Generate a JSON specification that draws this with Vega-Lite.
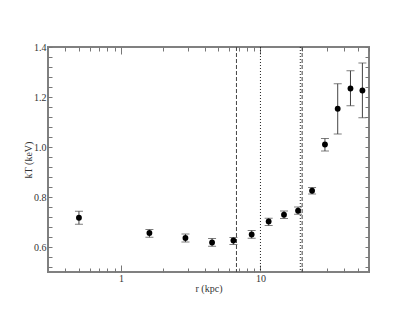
{
  "$schema": "https://vega.github.io/schema/vega-lite/v6.json",
  "width": 321,
  "height": 225,
  "autosize": "none",
  "padding": {"left": 48, "top": 47, "right": 46, "bottom": 49},
  "background": "white",
  "view": {"stroke": "#808080", "strokeWidth": 2},
  "config": {
    "axis": {
      "labelFont": "Liberation Serif",
      "titleFont": "Liberation Serif",
      "labelFontSize": 10,
      "titleFontSize": 10,
      "titleFontWeight": "normal",
      "labelColor": "#333",
      "titleColor": "#333",
      "tickColor": "#777",
      "tickWidth": 1,
      "domain": false,
      "grid": false
    }
  },
  "datasets": {
    "profile": [
      {"r": 0.5, "kT": 0.717, "lo": 0.691, "hi": 0.743},
      {"r": 1.6, "kT": 0.656, "lo": 0.639, "hi": 0.670},
      {"r": 2.9, "kT": 0.636, "lo": 0.620, "hi": 0.652},
      {"r": 4.5, "kT": 0.618, "lo": 0.603, "hi": 0.634},
      {"r": 6.4, "kT": 0.626, "lo": 0.610, "hi": 0.638},
      {"r": 8.65, "kT": 0.650, "lo": 0.635, "hi": 0.666},
      {"r": 11.45, "kT": 0.702, "lo": 0.686, "hi": 0.715},
      {"r": 14.75, "kT": 0.729, "lo": 0.714, "hi": 0.744},
      {"r": 18.6, "kT": 0.745, "lo": 0.731, "hi": 0.760},
      {"r": 23.45, "kT": 0.825, "lo": 0.812, "hi": 0.838},
      {"r": 29.0, "kT": 1.010, "lo": 0.984, "hi": 1.034},
      {"r": 35.8, "kT": 1.153, "lo": 1.052, "hi": 1.253},
      {"r": 44.2, "kT": 1.234, "lo": 1.165, "hi": 1.305},
      {"r": 53.8, "kT": 1.226, "lo": 1.117, "hi": 1.336}
    ],
    "lines": [
      {"r": 6.73, "style": "dashed"},
      {"r": 10, "style": "dotted"},
      {"r": 19.3, "style": "dotted"},
      {"r": 19.9, "style": "dashed"}
    ]
  },
  "resolve": {"axis": {"x": "independent", "y": "independent"}},
  "layer": [
    {
      "data": {"name": "lines"},
      "transform": [{"filter": "datum.style == 'dashed'"}],
      "mark": {"type": "rule", "color": "#444", "strokeWidth": 1, "strokeDash": [4, 2]},
      "encoding": {
        "x": {"field": "r", "type": "quantitative",
          "scale": {"type": "log", "domain": [0.3, 60], "nice": false},
          "axis": {"orient": "bottom", "values": [1, 10], "format": "~g", "tickSize": -7, "labelPadding": 8, "title": "r (kpc)", "titlePadding": 0}}
      }
    },
    {
      "data": {"name": "lines"},
      "transform": [{"filter": "datum.style == 'dotted'"}],
      "mark": {"type": "rule", "color": "#222", "strokeWidth": 1, "strokeDash": [1, 2]},
      "encoding": {
        "x": {"field": "r", "type": "quantitative",
          "scale": {"type": "log", "domain": [0.3, 60], "nice": false},
          "axis": {"orient": "bottom", "values": [0.4, 0.5, 0.6, 0.7, 0.8, 0.9, 2, 3, 4, 5, 6, 7, 8, 9, 20, 30, 40, 50, 60], "labels": false, "tickSize": -4, "title": null}}
      }
    },
    {
      "data": {"name": "profile"},
      "mark": {"type": "rule", "color": "#444", "strokeWidth": 1},
      "encoding": {
        "x": {"field": "r", "type": "quantitative",
          "scale": {"type": "log", "domain": [0.3, 60], "nice": false},
          "axis": {"orient": "top", "values": [1, 10], "labels": false, "tickSize": -7, "title": null}},
        "y": {"field": "lo", "type": "quantitative",
          "scale": {"domain": [0.5, 1.4], "nice": false, "zero": false},
          "axis": {"orient": "left", "values": [0.52, 0.56, 0.6, 0.64, 0.68, 0.72, 0.76, 0.8, 0.84, 0.88, 0.92, 0.96, 1.0, 1.04, 1.08, 1.12, 1.16, 1.2, 1.24, 1.28, 1.32, 1.36, 1.4],
            "labelExpr": "abs(datum.value*5 - round(datum.value*5)) < 0.001 ? format(datum.value, '.1f') : ''",
            "tickSize": -4, "labelPadding": 6, "title": "kT (keV)", "titlePadding": 0}},
        "y2": {"field": "hi"}
      }
    },
    {
      "data": {"name": "profile"},
      "mark": {"type": "tick", "orient": "horizontal", "size": 8, "thickness": 1, "color": "#444"},
      "encoding": {
        "x": {"field": "r", "type": "quantitative",
          "scale": {"type": "log", "domain": [0.3, 60], "nice": false},
          "axis": {"orient": "top", "values": [0.4, 0.5, 0.6, 0.7, 0.8, 0.9, 2, 3, 4, 5, 6, 7, 8, 9, 20, 30, 40, 50, 60], "labels": false, "tickSize": -4, "title": null}},
        "y": {"field": "lo", "type": "quantitative",
          "scale": {"domain": [0.5, 1.4], "nice": false, "zero": false},
          "axis": {"orient": "right", "values": [0.52, 0.56, 0.6, 0.64, 0.68, 0.72, 0.76, 0.8, 0.84, 0.88, 0.92, 0.96, 1.0, 1.04, 1.08, 1.12, 1.16, 1.2, 1.24, 1.28, 1.32, 1.36, 1.4],
            "labels": false, "tickSize": -4, "title": null}}
      }
    },
    {
      "data": {"name": "profile"},
      "mark": {"type": "tick", "orient": "horizontal", "size": 8, "thickness": 1, "color": "#444"},
      "encoding": {
        "x": {"field": "r", "type": "quantitative",
          "scale": {"type": "log", "domain": [0.3, 60], "nice": false}, "axis": null},
        "y": {"field": "hi", "type": "quantitative",
          "scale": {"domain": [0.5, 1.4], "nice": false, "zero": false}, "axis": null}
      }
    },
    {
      "data": {"name": "profile"},
      "mark": {"type": "circle", "size": 34, "color": "black", "opacity": 1},
      "encoding": {
        "x": {"field": "r", "type": "quantitative",
          "scale": {"type": "log", "domain": [0.3, 60], "nice": false}, "axis": null},
        "y": {"field": "kT", "type": "quantitative",
          "scale": {"domain": [0.5, 1.4], "nice": false, "zero": false}, "axis": null}
      }
    }
  ]
}
